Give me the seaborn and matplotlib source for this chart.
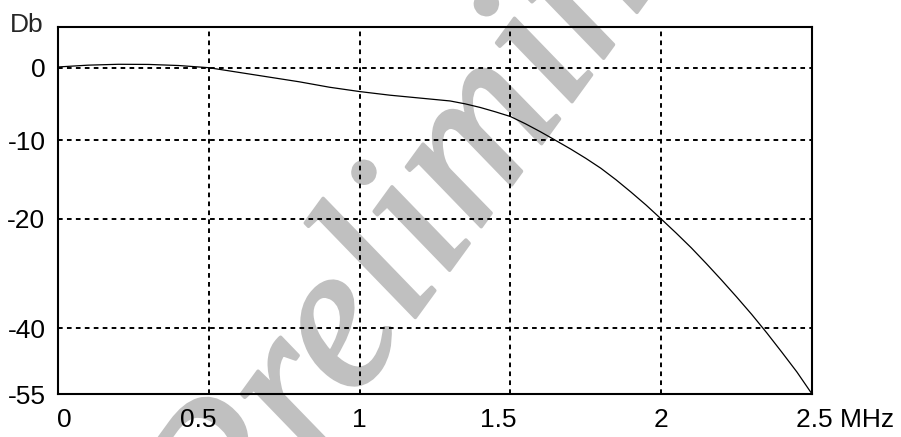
import numpy as np
import matplotlib
matplotlib.use("Agg")
import matplotlib.pyplot as plt
import matplotlib.transforms as mtransforms
import matplotlib.patheffects as pe
import seaborn as sns

# frequency response (MHz, dB)
freq_mhz = [0, 0.1, 0.2, 0.3, 0.4, 0.5, 0.6, 0.7, 0.8, 0.9, 1.0, 1.1, 1.2,
            1.3, 1.35, 1.4, 1.45, 1.5, 1.55, 1.6, 1.65, 1.7, 1.75, 1.8, 1.85,
            1.9, 1.95, 2.0, 2.05, 2.1, 2.15, 2.2, 2.25, 2.3, 2.35, 2.4, 2.45, 2.5]
gain_db = [0.1, 0.35, 0.47, 0.45, 0.3, 0.0, -0.65, -1.3, -1.95, -2.7, -3.3, -3.8, -4.2,
           -4.6, -5.0, -5.5, -6.1, -6.75, -7.76, -8.87, -10.05, -11.15, -12.32, -13.58, -15.03,
           -16.6, -18.24, -20.0, -22.6, -25.3, -28.2, -31.2, -34.3, -37.5, -41.1, -45.5, -50.0, -55.0]

x_ticks = [0, 0.5, 1, 1.5, 2, 2.5]
x_labels = ["0", "0.5", "1", "1.5", "2", "2.5 MHz"]
y_ticks = [0, -10, -20, -40, -55]
y_labels = ["0", "-10", "-20", "-40", "-55"]

# the dB axis is not linear in the original: spacing between labelled levels differs
scale_db = [-55, -40, -20, -10, 0, 5.6]
scale_pos = [0, 66, 175, 254, 326.3, 367]


def fwd(v):
    return np.interp(v, scale_db, scale_pos)


def inv(v):
    return np.interp(v, scale_pos, scale_db)


sns.set_style("white")
plt.rcParams["font.family"] = ["Liberation Sans", "DejaVu Sans"]

fig = plt.figure(figsize=(9.01, 4.37), dpi=100)
ax = fig.add_axes([58 / 901, 43 / 437, 754 / 901, 367 / 437])
ax.patch.set_alpha(0)

# watermark (cut by the page edges, as in the original)
fig.text(490 / 901, 1 - 130 / 437, "Preliminary", rotation=54, fontsize=150,
         color="#c0c0c0", family="Liberation Serif", style="italic",
         ha="center", va="center", rotation_mode="anchor", zorder=-5,
         path_effects=[pe.withStroke(linewidth=2.5, foreground="#c0c0c0")])

sns.lineplot(x=freq_mhz, y=gain_db, ax=ax, color="black", linewidth=0.9)

ax.set_yscale("function", functions=(fwd, inv))
ax.set_xlim(0, 2.5)
ax.set_ylim(-55, 5.6)
ax.set_xticks(x_ticks)
ax.set_xticklabels(x_labels)
ax.set_yticks(y_ticks)
ax.set_yticklabels(y_labels)
ax.minorticks_off()
ax.tick_params(length=0, labelsize=19, colors="black")
ax.tick_params(axis="y", pad=9)
ax.tick_params(axis="x", pad=10)

ax.grid(True, color="black", linestyle=(0, (2.4, 2.2)), linewidth=1.4)
for sp in ax.spines.values():
    sp.set_color("black")
    sp.set_linewidth(1.5)
ax.set_xlabel("")
ax.set_ylabel("")

# hand-placed x labels in the original
shifts = [6, -11, 0, -12, 0, -16]
for lab, dx in zip(ax.get_xticklabels(), shifts):
    lab.set_transform(lab.get_transform() + mtransforms.ScaledTranslation(dx / 100, 0, fig.dpi_scale_trans))
ax.get_xticklabels()[-1].set_ha("left")

fig.text(44 / 901, 1 - 32 / 437, "Db", fontsize=19, ha="right", va="baseline")

fig.savefig("out.png", dpi=100, facecolor="white")
